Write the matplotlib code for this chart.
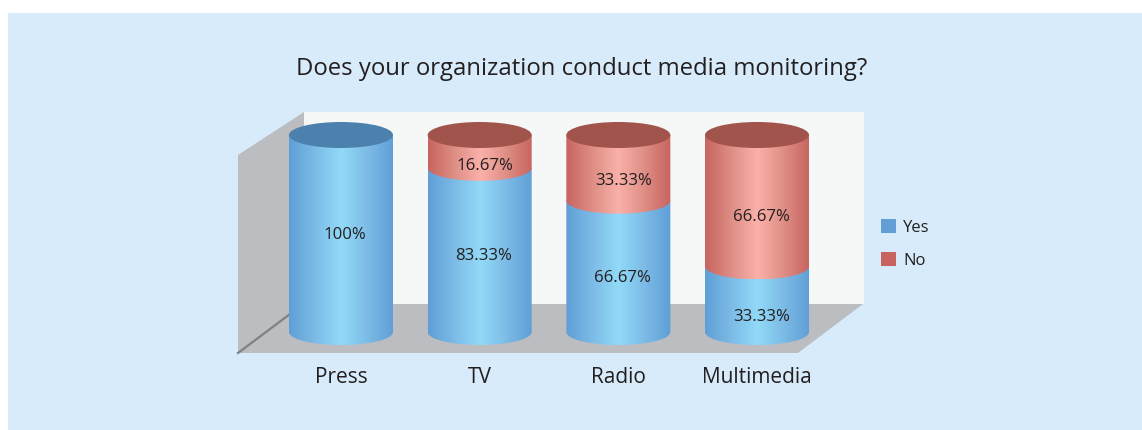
import numpy as np
import matplotlib
matplotlib.use("Agg")
import matplotlib.pyplot as plt
from matplotlib.colors import LinearSegmentedColormap
from matplotlib.patches import Ellipse, Patch, PathPatch, Polygon, Rectangle
from matplotlib.path import Path

# -------------------------
# DATA
# -------------------------
categories = ["Press", "TV", "Radio", "Multimedia"]
yes_values = [100, 83.33, 66.67, 33.33]
no_values = [0, 16.67, 33.33, 66.67]
yes_labels = ["100%", "83.33%", "66.67%", "33.33%"]
no_labels = ["", "16.67%", "33.33%", "66.67%"]

# -------------------------
# STYLE
# -------------------------
W, H = 1142, 430
PANEL = "#d8ebfa"
WALL = "#f6f8f8"
GREY = "#bcbdc0"
YES = "#629fd6"
NO = "#c8645f"
YES_GRAD = LinearSegmentedColormap.from_list("yes", ["#5f9fd6", "#7cbbe6", "#92daf8", "#7cbbe6", "#5f9fd6"])
NO_GRAD = LinearSegmentedColormap.from_list("no", ["#c8645f", "#de8e85", "#fab1a9", "#de8e85", "#c8645f"])
YES_TOP = "#4c81ae"
NO_TOP = "#a0544c"
HALF = 0.375   # cylinder half width, category units
RY = 6.6       # ellipse half height, percent units
FONT = "Open Sans"
TEXT = "#231f20"

# label drop below segment middle, in percent units
yes_drop = [1.0, 3.2, 6.1, 9.1]
no_drop = [0, 7.5, 6.6, 8.3]

fig = plt.figure(figsize=(W / 100, H / 100), dpi=100, facecolor="white")

# -------------------------
# BACKGROUND (pixel coordinates)
# -------------------------
bg = fig.add_axes([0, 0, 1, 1])
bg.set_xlim(0, W)
bg.set_ylim(H, 0)
bg.axis("off")
bg.add_patch(Rectangle((8, 13), W - 8, H - 13, fc=PANEL, ec="none"))
bg.add_patch(Rectangle((304, 112), 560, 192, fc=WALL, ec="none"))
bg.add_patch(Polygon([(238, 155), (304, 112), (304, 304), (238, 353)], fc=GREY, ec="none"))
bg.add_patch(Polygon([(238, 353), (304, 304), (863, 304), (798, 353)], fc=GREY, ec="none"))
bg.plot([238, 290], [353, 314], color="#808184", lw=1.6)

# -------------------------
# CYLINDERS (data coordinates)
# -------------------------
left, right, bottom, top = 238, 863, 353, 100
ax = fig.add_axes([left / W, 1 - bottom / H, (right - left) / W, (bottom - top) / H])
ax.patch.set_alpha(0)


def body(x, y0, y1, cmap):
    # side of the cylinder with rounded bottom edge
    t = np.linspace(np.pi, 2 * np.pi, 60)
    low = np.column_stack([x + HALF * np.cos(t), y0 + RY * np.sin(t)])
    high = np.array([[x + HALF, y1], [x - HALF, y1]])
    pts = np.vstack([low, high, low[:1]])
    path = PathPatch(Path(pts), transform=ax.transData, fc="none", ec="none")
    ax.add_patch(path)
    img = ax.imshow(np.linspace(0, 1, 256)[None, :], cmap=cmap, aspect="auto", zorder=2,
                    extent=[x - HALF, x + HALF, y0 - RY, y1 + RY])
    img.set_clip_path(path)


for i, cat in enumerate(categories):
    yes, no = yes_values[i], no_values[i]
    body(i, 0, yes, YES_GRAD)
    if no > 0:
        body(i, yes, yes + no, NO_GRAD)
    cap = NO_TOP if no > 0 else YES_TOP
    ax.add_patch(Ellipse((i, yes + no), 2 * HALF, 2 * RY, fc=cap, ec="none", zorder=3))
    ax.text(i + 0.03, yes / 2 - yes_drop[i], yes_labels[i], ha="center", va="center",
            fontsize=12.1, family=FONT, color=TEXT, zorder=4)
    if no > 0:
        ax.text(i + 0.035, yes + no / 2 - no_drop[i], no_labels[i], ha="center", va="center",
                fontsize=12.1, family=FONT, color=TEXT, zorder=4)

ax.set_xlim((left - 341) / 138.67, (right - 341) / 138.67)
ax.set_ylim((332 - bottom) / 1.97, (332 - top) / 1.97)
ax.set_xticks(range(len(categories)))
ax.set_xticklabels(categories, fontsize=15, family=FONT, color=TEXT)
ax.tick_params(axis="x", length=0, pad=10)
ax.set_yticks([])
for s in ax.spines.values():
    s.set_visible(False)

fig.text(582 / W, 1 - 69 / H, "Does your organization conduct media monitoring?", ha="center", va="center",
         fontsize=17.2, family=FONT, color=TEXT)

handles = [Patch(fc=YES, ec="none", label="Yes"), Patch(fc=NO, ec="none", label="No")]
fig.legend(handles=handles, loc="center left", bbox_to_anchor=(866 / W, 1 - 244 / H), frameon=False,
           prop={"family": FONT, "size": 12}, labelcolor=TEXT, handlelength=0.9, handleheight=0.9,
           handletextpad=0.42, labelspacing=1.0)

fig.savefig("out.png", dpi=100)
